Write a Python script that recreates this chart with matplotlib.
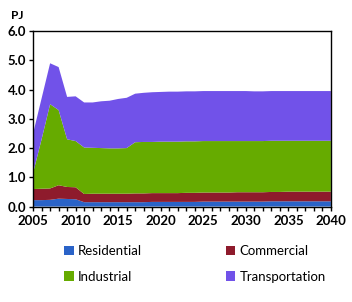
import numpy as np
import matplotlib
matplotlib.use("Agg")
from matplotlib import pyplot as plt
from matplotlib.patches import Patch

years = list(range(2005, 2041))

residential = [0.22, 0.22, 0.23, 0.27, 0.26, 0.25,
               0.15, 0.15, 0.15, 0.15, 0.15, 0.15, 0.15, 0.15,
               0.16, 0.16, 0.16, 0.16, 0.16, 0.16,
               0.17, 0.17, 0.17, 0.17, 0.17, 0.17, 0.17, 0.17,
               0.18, 0.18, 0.18, 0.18, 0.18, 0.18, 0.18, 0.18]
commercial = [0.38, 0.39, 0.39, 0.46, 0.41, 0.41,
              0.28, 0.29, 0.29, 0.29, 0.29, 0.29, 0.30, 0.30, 0.30, 0.30,
              0.30, 0.30, 0.31, 0.31, 0.31, 0.31, 0.31, 0.31, 0.32, 0.32,
              0.32, 0.32, 0.32, 0.32, 0.33, 0.33, 0.33, 0.33, 0.33, 0.33]
industrial = [0.55, 1.69, 2.88, 2.57, 1.63, 1.58,
              1.59, 1.57, 1.56, 1.55, 1.55, 1.56, 1.75, 1.76, 1.75, 1.76,
              1.76, 1.76, 1.76, 1.76, 1.76, 1.76, 1.76, 1.76,
              1.75, 1.75, 1.75, 1.75, 1.75, 1.75,
              1.74, 1.74, 1.74, 1.74, 1.74, 1.74]
transportation = [1.35, 1.40, 1.40, 1.47, 1.45, 1.53,
                  1.54, 1.55, 1.60, 1.63, 1.69, 1.72, 1.66, 1.68, 1.70, 1.70,
                  1.71, 1.71, 1.71, 1.71, 1.71, 1.71, 1.71, 1.71, 1.71, 1.71,
                  1.70, 1.70, 1.70, 1.70, 1.70, 1.70, 1.70, 1.70, 1.70, 1.70]

names = ['Residential', 'Commercial', 'Industrial', 'Transportation']
colors = ['#2a63c8', '#8e1b2c', '#66ab00', '#7152e9']

plt.rcParams['font.family'] = ['Lato', 'DejaVu Sans']

fig = plt.figure(figsize=(3.52, 3.02), dpi=100)
ax = fig.add_axes([0.094, 0.316, 0.846, 0.581])

ax.stackplot(years, residential, commercial, industrial, transportation,
             colors=colors, linewidth=0)

ax.set_xlim(2005, 2040)
ax.set_ylim(0, 6)
ax.set_xticks(range(2005, 2041, 5))
ax.set_xticks(years, minor=True)
ax.set_yticks(np.arange(0, 6.1, 1.0))
ax.set_yticklabels(['%.1f' % v for v in np.arange(0, 6.1, 1.0)])
ax.tick_params(axis='both', which='both', direction='out', length=3,
               width=1, labelsize=9.5)
ax.tick_params(axis='y', which='major', pad=2)
ax.tick_params(axis='x', which='both', pad=3)
for lab in ax.get_xticklabels() + ax.get_yticklabels():
    lab.set_fontweight('bold')
for sp in ax.spines.values():
    sp.set_linewidth(1)
    sp.set_color('black')

fig.text(0.03, 0.95, 'PJ', fontsize=8.5, fontweight='bold', va='center')

# legend is filled row by row in the reference, matplotlib fills by column
order = [0, 2, 1, 3]
handles = [Patch(facecolor=colors[i], edgecolor='none') for i in order]
fig.legend(handles, [names[i] for i in order], ncol=2, loc='upper left',
           bbox_to_anchor=(0.168, 0.205), frameon=False, fontsize=9.5,
           handlelength=0.7, handleheight=0.7, handletextpad=0.3,
           columnspacing=6.4, labelspacing=1.0, borderaxespad=0)

plt.savefig('out.png', dpi=100)
plt.close()
